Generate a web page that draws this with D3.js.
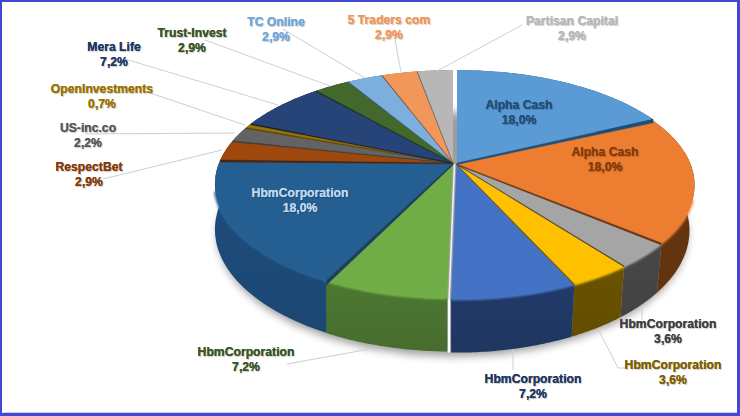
<!DOCTYPE html>
<html><head><meta charset="utf-8">
<script src="https://cdnjs.cloudflare.com/ajax/libs/d3/7.8.5/d3.min.js"></script>
<style>
html,body{margin:0;padding:0;background:#fff}
svg{display:block}
text{font-family:"Liberation Sans",Arial,sans-serif;font-weight:bold;font-size:12.2px;text-anchor:middle;text-shadow:0 0 .5px currentColor,1px 1px 1px rgba(0,0,0,.22)}
</style></head><body><svg id="c" width="740" height="416"></svg>
<script>
// data
const names = ["Alpha Cash","Alpha Cash","HbmCorporation","HbmCorporation","HbmCorporation","HbmCorporation","HbmCorporation","RespectBet","US-inc.co","OpenInvestments","Mera Life","Trust-Invest","TC Online","5 Traders com","Partisan Capital"];
const values = [18.0,18.0,3.6,3.6,7.2,7.2,18.0,2.9,2.2,0.7,7.2,2.9,2.9,2.9,2.9];
// styles
const topColors = ["#5b9bd5","#ed7d31","#a5a5a5","#ffc000","#4472c4","#70ad47","#255e91","#9e480e","#636363","#997300","#264478","#43682b","#7cafdd","#f1975a","#b7b7b7"];
const sideColors = ["#2e4e6b","#66350f","#454545","#665000","#203864","#4a7230","#1d4a78","#5f2b08","#3c3c3c","#5c4500","#172a48","#28401a","#4b6985","#905a36","#6e6e6e"];
const labelColors = ["#1f4e79","#843c0c","#404040","#7f6000","#1f3864","#375623","#bdd7ee","#843c0c","#595959","#997300","#1f3864","#375623","#6fa8dc","#f1975a","#b7b7b7"];
const edgeColors = ["#1f4e79","#6f3410","#404040","#7f6000","#000","#000","#1b3f63","#4f2407","#3f3f3f","#5f4700","#101f3a","#1f3311","#3d5a75","#7b4a2a","#5f5f5f"];
const edgeWidths = [3.5,2,1,1.5,0,0,5,2,1,1,1,1,.8,.8,.8];
// layout of the perspective pie
const cx=453, cy=163, rimX=234, rimY=110, persp=.184;
const baseCy=207, baseXRight=229, baseXLeft=234, baseY=118;
const shift = [[4,0],[3.5,1],[3.5,1],[3.5,1],[3.5,1],[-.5,0],[0,0],[0,0],[0,0],[0,0],[0,0],[0,0],[0,0],[0,0],[0,0]];
const labelPos = [[519,105],[605,152],[668,324],[673,365],[533,379],[246,352],[300,193],[89,167],[88,128],[102,89],[114,47],[192,33],[276,22],[389,20],[572,21]];
const leaders = [null,null,[[642,306],[642,320]],[[598,329],[618,368],[625,368]],[[513,349],[513,370]],[[370,349],[287,364]],null,[[222,150],[103,179]],[[235,133],[85,134]],[[245,125],[150,93]],[[278,105],[125,59]],[[330,86],[205,40]],[[365,78],[283,29]],[[401,72],[395,40]],[[437,71],[522,25]]];

const svg = d3.select("#c");
const defs = svg.append("defs");
defs.append("filter").attr("id","blur").attr("x","-20%").attr("y","-20%").attr("width","140%").attr("height","140%")
  .append("feGaussianBlur").attr("stdDeviation",4);
defs.append("filter").attr("id","soft").attr("x","-20%").attr("y","-20%").attr("width","140%").attr("height","140%")
  .append("feGaussianBlur").attr("stdDeviation",.8);

const arcs = d3.pie().sort(null).value(d=>d)(values);
const line = d3.line();
const proj = (a,r,s,plane) => {
  const u=Math.sin(a)*r, v=Math.cos(a)*r, d=1+persp*v;
  return plane ? [cx+s[0]+(u<0?baseXLeft:baseXRight)*u/d, baseCy+s[1]-baseY*v/d] : [cx+s[0]+rimX*u/d, cy+s[1]-rimY*v/d];
};
const arcPts = (a0,a1,s,plane) => d3.range(0,1.0001,1/40).map(t=>proj(a0+(a1-a0)*t,1,s,plane));

// drop shadow under the pie
svg.append("path").attr("d", line(arcPts(0,2*Math.PI,[2,5],true))+"Z")
  .attr("fill","#000").attr("opacity",.38).attr("filter","url(#blur)");

// side walls
const sides = arcs.map((d,i)=>{
  const s=shift[i];
  return {i, pts:[...arcPts(d.startAngle,d.endAngle,s,false),...arcPts(d.startAngle,d.endAngle,s,true).reverse()]};
});
sides.forEach(o=>{
  const g=defs.append("linearGradient").attr("id","g"+o.i).attr("x1",0).attr("x2",0).attr("y1",0).attr("y2",1);
  g.append("stop").attr("offset",0).attr("stop-color",d3.color(sideColors[o.i]).brighter(.12));
  g.append("stop").attr("offset",1).attr("stop-color",d3.color(sideColors[o.i]).darker(.12));
});
svg.append("g").selectAll("path").data(sides).join("path")
  .attr("d",o=>line(o.pts)+"Z").attr("fill",o=>`url(#g${o.i})`);

// white seam where the front slices separate
const seam = arcs[4], seamShift=[1.5,1];
svg.append("path").attr("d",line([proj(seam.endAngle,1,seamShift,false),proj(seam.endAngle,1,seamShift,true)]))
  .attr("stroke","#fff").attr("stroke-width",2).attr("fill","none");

// soft rim bevel on the front of the pie only
const front = (d,i)=>{
  const a0=Math.max(d.startAngle,Math.PI*.6), a1=Math.min(d.endAngle,Math.PI*1.42);
  return a1>a0 ? line(arcPts(a0,a1,shift[i],false)) : null;
};
svg.append("g").attr("filter","url(#soft)").selectAll("path").data(arcs).join("path")
  .attr("d",front)
  .attr("fill","none").attr("stroke",(d,i)=>d3.color(topColors[i]).brighter(.2)).attr("stroke-width",3);

// top surfaces
svg.append("g").selectAll("path").data(arcs).join("path")
  .attr("d",(d,i)=>line([proj(0,0,shift[i],false),...arcPts(d.startAngle,d.endAngle,shift[i],false)])+"Z")
  .attr("fill",(d,i)=>topColors[i]);

// light line along the same seam on the top surface
svg.append("path").attr("d",line([proj(0,0,seamShift,false),proj(seam.endAngle,1,seamShift,false)]))
  .attr("stroke","#eef3ea").attr("stroke-width",1.6).attr("fill","none");

// dark radial edges, on the lower side of each slice
svg.append("g").selectAll("path").data(arcs).join("path")
  .attr("d",(d,i)=>{
    const a=(d.startAngle+d.endAngle)/2<Math.PI?d.endAngle:d.startAngle, s=shift[i], p=proj(a,1,s,false), o=proj(0,0,s,false), w=edgeWidths[i];
    return line([o,p,[p[0],p[1]+w],[o[0],o[1]+w*.4]])+"Z";
  })
  .attr("fill",(d,i)=>edgeColors[i]).attr("stroke",(d,i)=>edgeColors[i]).attr("stroke-width",(d,i)=>edgeWidths[i]?.4:0);

// leader lines
svg.append("g").selectAll("path").data(leaders.filter(Boolean)).join("path")
  .attr("d",line).attr("fill","none").attr("stroke","#cfcfcf").attr("stroke-width",1);

// labels
const lab = svg.append("g").selectAll("g").data(arcs).join("g")
  .attr("fill",(d,i)=>labelColors[i]).attr("color",(d,i)=>labelColors[i]).attr("transform",(d,i)=>`translate(${labelPos[i][0]},${labelPos[i][1]})`);
lab.append("text").attr("dy","0.35em").text((d,i)=>names[i]);
lab.append("text").attr("dy","0.35em").attr("y",15).text((d,i)=>values[i].toFixed(1).replace(".",",")+"%");

// frame
const frameColor="#4348d4";
svg.append("rect").attr("x",3).attr("y",412).attr("width",734).attr("height",1).attr("fill","#c7c9f2");
[[0,0,740,2],[0,0,2,416],[737,0,3,416],[0,413,740,3]].forEach(r=>
  svg.append("rect").attr("x",r[0]).attr("y",r[1]).attr("width",r[2]).attr("height",r[3]).attr("fill",frameColor));
</script></body></html>
